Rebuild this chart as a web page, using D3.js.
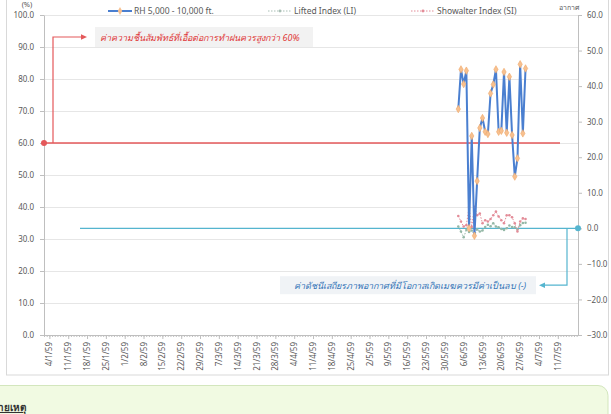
<!DOCTYPE html>
<html>
<head>
<meta charset="utf-8">
<script src="https://cdn.jsdelivr.net/npm/d3@7"></script>
<style>
  body { margin: 0; background: #fff; }
  text { font-family: "Noto Sans", "DejaVu Sans", sans-serif; }
</style>
</head>
<body>
<svg id="chart" width="611" height="414"></svg>
<script>
// tick labels on the date axis (Thai Buddhist year, 59 = 2016)
const tickLabels = ['4/1/59', '11/1/59', '18/1/59', '25/1/59', '1/2/59', '8/2/59', '15/2/59',
  '22/2/59', '29/2/59', '7/3/59', '14/3/59', '21/3/59', '28/3/59', '4/4/59', '11/4/59',
  '18/4/59', '25/4/59', '2/5/59', '9/5/59', '16/5/59', '23/5/59', '30/5/59', '6/6/59',
  '13/6/59', '20/6/59', '27/6/59', '4/7/59', '11/7/59'];

const obsDates = ['2016-06-04', '2016-06-05', '2016-06-06', '2016-06-07', '2016-06-08',
  '2016-06-09', '2016-06-10', '2016-06-11', '2016-06-12', '2016-06-13', '2016-06-14',
  '2016-06-15', '2016-06-16', '2016-06-17', '2016-06-18', '2016-06-19', '2016-06-20',
  '2016-06-21', '2016-06-22', '2016-06-23', '2016-06-24', '2016-06-25', '2016-06-26',
  '2016-06-27', '2016-06-28', '2016-06-29'];

// RH 5,000 - 10,000 ft. (%)
const rhValues = [70.6, 83.0, 78.4, 82.6, 33.4, 62.2, 31.0, 48.1, 64.7, 67.8, 63.5, 62.8, 75.5,
  78.3, 83.0, 63.5, 63.8, 82.2, 63.2, 80.7, 62.5, 49.5, 55.2, 84.6, 63.0, 83.3];
// Lifted Index (LI)
const liValues = [0.5, -0.9, -2.5, -0.5, -1.0, -0.6, -1.9, -0.3, -0.9, -0.6, 0.4, 1.0, 0.6,
  1.4, 0.5, 0.3, -0.2, -0.5, 0.0, 0.8, 0.4, 0.3, -0.3, 0.9, 1.5, 1.6];
// Showalter Index (SI)
const siValues = [3.5, 1.9, 0.5, 0.9, 6.0, 0.4, 6.1, 3.7, 4.2, 1.4, 2.3, 1.9, 2.6, 3.7, 4.7,
  3.3, 2.3, 1.4, 3.7, 3.7, 3.1, 1.4, -0.9, 1.9, 2.8, 2.6];

const leftTicks = [0, 10, 20, 30, 40, 50, 60, 70, 80, 90, 100];
const rightTicks = [-30, -20, -10, 0, 10, 20, 30, 40, 50, 60];

const rhThreshold = 60;
const indexThreshold = 0;
const indexNote = -16;

const plot = { left: 44, right: 578, top: 15, bottom: 335 };
const grey = '#595959';
const red = '#e4585a';
const cyan = '#55b5cf';

const svg = d3.select('#chart');
const parseDate = d3.timeParse('%Y-%m-%d');
const parseLabel = s => {
  const [d, m, y] = s.split('/').map(Number);
  return new Date(2500 + y - 543, m - 1, d);
};

const x = d3.scaleTime()
  .domain([new Date(2016, 0, 2), new Date(2016, 6, 18, 12)])
  .range([plot.left, plot.right]);
const yL = d3.scaleLinear().domain([0, 100]).range([plot.bottom, plot.top]);
const yR = d3.scaleLinear().domain([-30, 60]).range([plot.bottom, plot.top]);

// outer frame
svg.append('rect')
  .attr('x', 6.5).attr('y', -2).attr('width', 602).attr('height', 377)
  .attr('fill', '#fff').attr('stroke', '#d9d9d9');

// gridlines
svg.append('g').selectAll('line')
  .data(leftTicks.slice(1))
  .join('line')
    .attr('x1', plot.left).attr('x2', plot.right)
    .attr('y1', d => yL(d) + 0.5).attr('y2', d => yL(d) + 0.5)
    .attr('stroke', '#e6e6e6');

const styleAxis = g => {
  g.select('.domain').attr('stroke', '#bfbfbf');
  g.selectAll('.tick line').attr('stroke', '#bfbfbf');
  g.selectAll('.tick text').attr('fill', grey).style('font-size', '8px');
};

svg.append('g')
  .attr('transform', `translate(${plot.left},0)`)
  .call(d3.axisLeft(yL).tickValues(leftTicks).tickFormat(d3.format('.1f'))
    .tickSize(4).tickSizeOuter(0).tickPadding(6))
  .call(styleAxis);

svg.append('g')
  .attr('transform', `translate(${plot.right},0)`)
  .call(d3.axisRight(yR).tickValues(rightTicks).tickFormat(d3.format('.1f'))
    .tickSize(4).tickSizeOuter(0).tickPadding(5))
  .call(styleAxis);

// daily minor ticks on the date axis
svg.append('g')
  .attr('transform', `translate(0,${plot.bottom})`)
  .call(d3.axisBottom(x).tickValues(d3.timeDay.range(...x.domain()))
    .tickSize(2).tickSizeOuter(0).tickFormat(''))
  .call(styleAxis);

// weekly labelled ticks
const xAxisG = svg.append('g')
  .attr('transform', `translate(0,${plot.bottom})`)
  .call(d3.axisBottom(x).tickValues(tickLabels.map(parseLabel))
    .tickSize(4).tickSizeOuter(0).tickFormat((d, i) => tickLabels[i]))
  .call(styleAxis);
xAxisG.select('.domain').remove();
xAxisG.selectAll('.tick text')
  .attr('text-anchor', 'end')
  .attr('transform', 'translate(0,7) rotate(-90)')
  .attr('y', 0).attr('dy', '0.32em');

// ---- red RH threshold annotation ----
svg.append('line')
  .attr('x1', plot.left).attr('x2', 560)
  .attr('y1', yL(rhThreshold)).attr('y2', yL(rhThreshold))
  .attr('stroke', red).attr('stroke-width', 1.3);
svg.append('path')
  .attr('d', `M53,${yL(rhThreshold)}V37H82`)
  .attr('fill', 'none').attr('stroke', red).attr('stroke-width', 1.2);
svg.append('path').attr('d', 'M81,34.2L87,37L81,39.8Z').attr('fill', red);
svg.append('circle')
  .attr('cx', plot.left).attr('cy', yL(rhThreshold)).attr('r', 3).attr('fill', red);
svg.append('rect')
  .attr('x', 95).attr('y', 27).attr('width', 218).attr('height', 20).attr('fill', '#f2f2f2');
svg.append('text')
  .attr('x', 200).attr('y', 40.5).attr('text-anchor', 'middle')
  .attr('fill', '#e03a3a').style('font-style', 'italic').style('font-size', '9px')
  .text('ค่าความชื้นสัมพัทธ์ที่เอื้อต่อการทำฝนควรสูงกว่า 60%');

// ---- cyan index threshold annotation ----
svg.append('line')
  .attr('x1', 80).attr('x2', plot.right)
  .attr('y1', yR(indexThreshold)).attr('y2', yR(indexThreshold))
  .attr('stroke', cyan).attr('stroke-width', 1.3);
svg.append('path')
  .attr('d', `M567,${yR(indexThreshold)}V${yR(indexNote)}H544`)
  .attr('fill', 'none').attr('stroke', cyan).attr('stroke-width', 1.2);
svg.append('path')
  .attr('d', `M545,${yR(indexNote) - 2.8}L539,${yR(indexNote)}L545,${yR(indexNote) + 2.8}Z`)
  .attr('fill', cyan);
svg.append('circle')
  .attr('cx', plot.right).attr('cy', yR(indexThreshold)).attr('r', 3).attr('fill', cyan);
svg.append('rect')
  .attr('x', 280).attr('y', yR(indexNote) - 9).attr('width', 256).attr('height', 18)
  .attr('fill', '#f0f3f6');
svg.append('text')
  .attr('x', 410).attr('y', yR(indexNote) + 3.5).attr('text-anchor', 'middle')
  .attr('fill', '#3576b8').style('font-style', 'italic').style('font-size', '9px')
  .text('ค่าดัชนีเสถียรภาพอากาศที่มีโอกาสเกิดเมฆควรมีค่าเป็นลบ (-)');

// ---- series ----
const dates = obsDates.map(parseDate);

const drawSeries = (values, scale, opts) => {
  const pts = values.map((v, i) => [x(dates[i]), scale(v)]);
  svg.append('path')
    .attr('d', d3.line()(pts))
    .attr('fill', 'none')
    .attr('stroke', opts.color)
    .attr('stroke-width', opts.width)
    .attr('stroke-dasharray', opts.dash || null);
  svg.append('g').selectAll('path')
    .data(pts)
    .join('path')
      .attr('transform', d => `translate(${d[0]},${d[1]})`)
      .attr('d', d3.symbol(opts.symbol, opts.size)())
      .attr('fill', opts.fill)
      .attr('stroke', opts.stroke || 'none')
      .attr('stroke-width', 0.6);
};

drawSeries(liValues, yR, {
  color: '#94b8a6', width: 1, dash: '1.5,1.5', symbol: d3.symbolCircle, size: 5, fill: '#94b8a6',
});
drawSeries(siValues, yR, {
  color: '#e38c98', width: 1, dash: '1.5,1.5', symbol: d3.symbolCircle, size: 5, fill: '#e38c98',
});
drawSeries(rhValues, yL, {
  color: '#4a7fd0', width: 2, symbol: d3.symbolDiamond, size: 16, fill: '#f7c08f', stroke: '#f0a868',
});

// ---- legend & axis titles ----
svg.append('text').attr('x', 27).attr('y', 7).attr('text-anchor', 'middle')
  .attr('fill', grey).style('font-size', '7.5px').text('(%)');
svg.append('text').attr('x', 569).attr('y', 10).attr('text-anchor', 'middle')
  .attr('fill', grey).style('font-size', '7px').text('อากาศ');

const legendItems = [
  { label: 'RH 5,000 - 10,000 ft.', x: 108, color: '#4a7fd0', width: 2, dash: null, mark: '#f7c08f' },
  { label: 'Lifted Index (LI)', x: 268, color: '#a9bfb5', width: 1, dash: '1.5,1.5', mark: '#a9bfb5' },
  { label: 'Showalter Index (SI)', x: 411, color: '#e38c98', width: 1, dash: '1.5,1.5', mark: '#e38c98' },
];
const legend = svg.append('g').selectAll('g')
  .data(legendItems)
  .join('g')
    .attr('transform', d => `translate(${d.x},11)`);
legend.append('line')
  .attr('x1', 0).attr('x2', 24)
  .attr('stroke', d => d.color).attr('stroke-width', d => d.width)
  .attr('stroke-dasharray', d => d.dash);
legend.append('path')
  .attr('transform', 'translate(12,0)')
  .attr('d', (d, i) => d3.symbol(i === 0 ? d3.symbolDiamond : d3.symbolCircle, i === 0 ? 18 : 6)())
  .attr('fill', d => d.mark);
legend.append('text')
  .attr('x', 26).attr('y', 3)
  .attr('fill', grey).style('font-size', '8.5px')
  .text(d => d.label);

// ---- note box below the chart ----
svg.append('rect')
  .attr('x', -12).attr('y', 385.5).attr('width', 620).attr('height', 60).attr('rx', 10)
  .attr('fill', '#f1fae2').attr('stroke', '#d3e6bd');
svg.append('text')
  .attr('x', 26).attr('y', 411).attr('text-anchor', 'end')
  .attr('fill', '#333').style('font-size', '10px').style('font-weight', 'bold')
  .style('text-decoration', 'underline')
  .text('หมายเหตุ');
</script>
</body>
</html>
